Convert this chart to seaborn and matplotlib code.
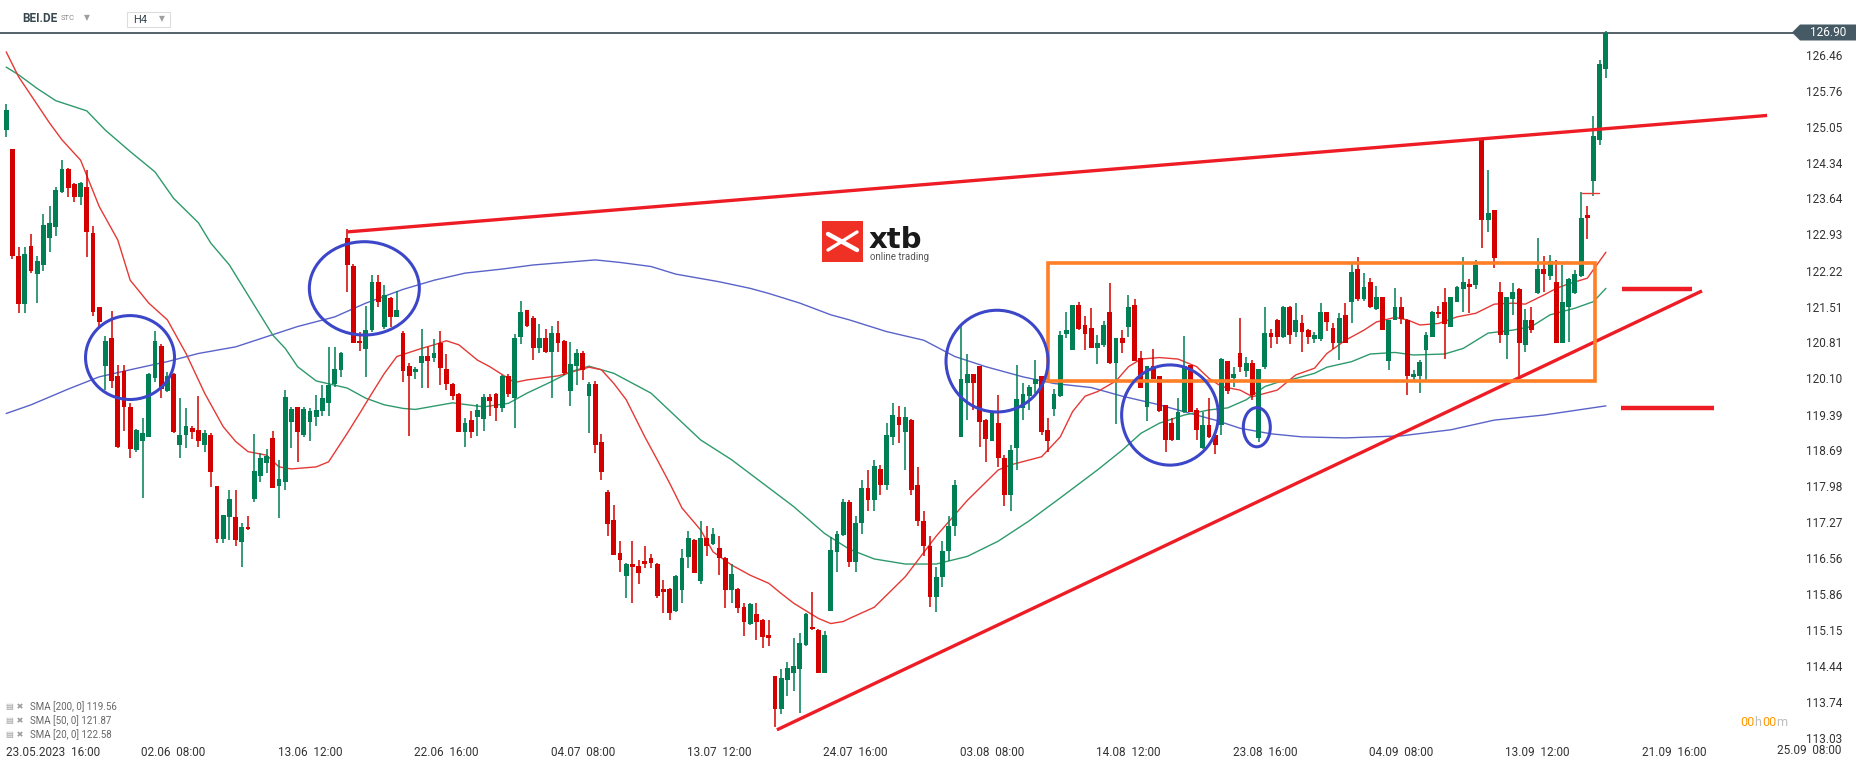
import numpy as np
import pandas as pd
import matplotlib
matplotlib.use("Agg")
import matplotlib.pyplot as plt
import seaborn as sns
from matplotlib.patches import Ellipse, Rectangle, Polygon
from matplotlib.transforms import ScaledTranslation

# ---- candles (H4, BEI.DE) ----
opens = [124.98, 124.61, 122.51, 121.57, 122.70, 122.16, 122.32, 122.87, 123.08, 123.77,
         124.22, 123.92, 123.67, 123.87, 122.95, 121.50, 120.35, 120.89, 120.15, 120.25,
         119.54, 118.69, 118.86, 118.95, 120.11, 120.74, 119.86, 120.18, 118.80, 118.99,
         119.12, 119.09, 118.80, 118.99, 117.98, 116.94, 117.37, 117.37, 116.89, 117.17,
         117.73, 118.19, 118.44, 118.92, 117.99, 118.06, 119.25, 119.54, 118.99, 119.25,
         119.35, 119.45, 119.61, 119.99, 120.27, 122.87, 122.31, 120.84, 120.67, 121.05,
         121.99, 121.12, 121.69, 121.31, 120.99, 120.34, 120.22, 120.41, 120.54, 120.51,
         120.80, 120.29, 119.99, 119.79, 119.05, 119.28, 119.35, 119.30, 119.74, 119.79,
         119.51, 120.15, 119.71, 120.92, 121.45, 121.28, 120.70, 120.89, 120.61, 120.99,
         120.84, 119.86, 120.34, 120.59, 119.76, 119.99, 118.84, 117.87, 117.32, 116.66,
         116.22, 116.46, 116.41, 116.51, 116.56, 116.46, 115.95, 115.95, 115.53, 115.93,
         116.58, 116.92, 116.12, 116.96, 116.84, 116.76, 116.57, 115.93, 115.96, 115.60,
         115.28, 115.47, 115.35, 115.05, 114.25, 113.60, 114.17, 114.31, 114.38, 114.86,
         115.22, 115.15, 114.31, 115.53, 116.69, 117.02, 117.66, 116.49, 117.25, 117.95,
         117.70, 118.32, 118.00, 118.95, 119.35, 119.05, 119.28, 118.00, 117.30, 116.80,
         115.80, 116.20, 116.70, 117.20, 118.95, 120.00, 120.18, 120.34, 119.28, 118.86,
         119.23, 118.53, 117.80, 118.74, 119.51, 119.75, 119.99, 120.15, 119.09, 119.50,
         119.76, 120.97, 120.66, 121.54, 121.15, 121.09, 120.70, 120.76, 121.40, 120.40,
         120.90, 121.12, 121.54, 120.50, 119.54, 120.34, 120.15, 119.58, 119.22, 118.89,
         119.43, 120.36, 119.48, 118.73, 119.18, 118.99, 119.18, 120.44, 120.10, 120.59,
         120.25, 120.40, 118.93, 120.32, 121.00, 121.25, 120.92, 121.51, 121.02, 121.18,
         121.05, 120.87, 120.87, 121.40, 121.09, 120.79, 121.35, 121.61, 122.25, 121.66,
         122.00, 121.46, 121.70, 120.45, 121.25, 121.50, 121.25, 120.12, 120.15, 120.66,
         120.92, 121.40, 121.60, 121.12, 121.61, 121.86, 121.95, 121.93, 124.79, 123.21,
         123.41, 121.79, 120.95, 121.67, 121.86, 120.76, 121.25, 121.77, 122.25, 122.12,
         122.00, 120.80, 121.51, 121.77, 122.12, 123.31, 123.99, 124.79, 126.18]
highs = [125.50, 124.61, 122.68, 122.68, 122.94, 122.51, 123.33, 123.49, 123.87, 124.39,
         124.23, 123.94, 123.96, 124.20, 123.10, 121.50, 120.93, 121.43, 120.36, 120.36,
         119.61, 119.10, 119.32, 120.20, 121.03, 120.78, 120.22, 120.20, 119.72, 119.52,
         119.17, 119.76, 119.09, 119.02, 117.98, 117.42, 117.91, 117.91, 117.26, 117.39,
         119.01, 118.63, 118.71, 119.07, 118.50, 119.87, 119.54, 119.54, 119.54, 119.51,
         119.77, 119.98, 120.71, 120.71, 120.61, 123.03, 122.34, 121.02, 121.53, 122.13,
         122.13, 121.94, 121.71, 121.82, 121.03, 120.41, 120.33, 121.07, 120.72, 120.87,
         121.03, 120.58, 120.00, 119.81, 119.32, 119.46, 119.60, 119.79, 119.79, 119.81,
         120.17, 120.18, 120.97, 121.62, 121.45, 121.33, 121.17, 121.07, 121.13, 121.23,
         120.86, 120.81, 120.67, 120.63, 120.02, 120.05, 119.01, 117.91, 117.61, 116.90,
         116.48, 116.90, 116.53, 116.80, 116.65, 116.48, 116.14, 115.97, 116.23, 116.75,
         117.09, 116.94, 117.30, 117.20, 117.15, 117.00, 116.59, 116.45, 115.97, 115.68,
         115.68, 115.68, 115.36, 115.34, 114.25, 114.39, 114.52, 115.00, 115.09, 115.48,
         115.91, 115.18, 115.14, 116.99, 117.10, 117.72, 117.70, 117.40, 118.10, 118.30,
         118.50, 118.40, 119.22, 119.61, 119.56, 119.54, 119.30, 118.36, 117.50, 117.00,
         116.40, 116.90, 117.40, 118.10, 121.15, 120.58, 120.18, 120.34, 119.30, 119.43,
         119.77, 118.60, 118.80, 120.36, 120.00, 119.97, 120.46, 120.15, 119.32, 119.89,
         121.03, 121.40, 121.54, 121.61, 121.33, 121.48, 120.95, 121.23, 121.98, 120.90,
         121.05, 121.73, 121.67, 120.63, 120.34, 120.68, 120.15, 119.58, 119.32, 119.71,
         120.93, 120.36, 119.51, 119.43, 119.71, 119.01, 120.50, 120.44, 120.32, 121.28,
         120.52, 120.46, 120.28, 121.51, 121.07, 121.27, 121.52, 121.52, 121.58, 121.35,
         121.07, 121.02, 121.58, 121.41, 121.18, 121.38, 121.58, 122.34, 122.48, 122.17,
         122.07, 121.92, 121.71, 121.25, 121.87, 121.70, 121.26, 120.27, 120.46, 121.01,
         121.43, 121.53, 121.88, 121.71, 121.91, 122.48, 122.06, 122.43, 124.83, 124.20,
         123.41, 121.99, 121.70, 121.97, 121.87, 121.46, 121.51, 122.87, 122.51, 122.53,
         122.43, 122.33, 122.07, 122.23, 123.77, 123.49, 125.26, 126.36, 126.93]
lows = [124.85, 122.45, 121.39, 121.39, 122.18, 121.59, 122.22, 122.59, 122.89, 123.74,
        123.66, 123.56, 123.50, 122.49, 121.33, 121.09, 119.87, 119.92, 118.73, 119.07,
        118.53, 118.66, 117.75, 118.94, 120.02, 119.72, 119.83, 119.03, 118.53, 118.73,
        118.91, 118.76, 118.65, 117.97, 116.86, 116.86, 116.92, 116.81, 116.40, 117.12,
        117.66, 118.07, 118.24, 117.95, 117.36, 117.91, 118.73, 118.46, 118.95, 118.87,
        119.17, 119.37, 119.37, 119.94, 120.13, 121.79, 120.80, 120.63, 120.13, 121.02,
        121.50, 121.07, 121.12, 121.30, 120.02, 118.97, 120.08, 119.92, 119.92, 120.42,
        119.98, 119.87, 119.68, 119.05, 118.76, 118.92, 118.97, 119.07, 119.37, 119.27,
        119.43, 119.73, 119.12, 120.78, 121.12, 120.46, 120.59, 120.59, 119.72, 120.61,
        120.17, 119.56, 119.97, 120.07, 119.02, 118.63, 118.10, 117.01, 116.63, 116.30,
        115.79, 115.69, 116.05, 116.37, 116.37, 115.79, 115.49, 115.35, 115.50, 115.69,
        116.37, 116.28, 116.05, 116.61, 116.82, 116.23, 115.59, 115.69, 115.48, 115.04,
        115.25, 114.96, 114.79, 114.84, 113.24, 113.50, 113.86, 113.96, 113.52, 114.84,
        115.15, 114.31, 114.31, 115.53, 116.30, 117.01, 116.40, 116.30, 117.05, 117.50,
        117.50, 117.80, 117.90, 118.80, 118.82, 118.30, 117.80, 117.20, 116.60, 115.60,
        115.50, 116.00, 116.50, 117.00, 118.95, 119.28, 119.48, 118.76, 118.46, 118.86,
        118.36, 117.60, 117.50, 118.30, 119.28, 119.48, 119.81, 118.99, 118.66, 119.37,
        119.74, 120.89, 120.65, 121.05, 120.66, 120.70, 120.38, 120.72, 120.38, 119.20,
        120.59, 120.92, 120.44, 119.91, 119.27, 120.08, 119.43, 118.66, 118.87, 118.89,
        119.41, 119.43, 118.89, 118.71, 118.92, 118.61, 118.99, 119.80, 119.94, 120.23,
        120.13, 119.68, 118.85, 120.28, 120.69, 120.78, 120.89, 120.78, 120.92, 120.61,
        120.78, 120.79, 120.84, 121.04, 120.68, 120.46, 120.79, 121.18, 121.63, 121.63,
        121.48, 121.45, 121.05, 120.27, 121.25, 121.17, 119.77, 120.07, 119.82, 120.07,
        120.92, 121.28, 120.48, 121.12, 121.61, 121.40, 121.38, 121.85, 122.66, 122.98,
        122.28, 120.79, 120.48, 121.35, 120.10, 120.61, 121.00, 121.76, 121.79, 122.03,
        120.79, 120.79, 120.82, 121.76, 122.09, 122.85, 123.69, 124.69, 126.01]
closes = [125.38, 122.51, 121.57, 122.55, 122.21, 122.41, 123.12, 123.15, 123.80, 124.22,
          123.84, 123.67, 123.94, 122.97, 121.41, 121.21, 120.84, 120.05, 118.75, 119.54,
          118.71, 119.09, 119.02, 120.18, 120.84, 119.89, 120.15, 119.05, 118.99, 119.17,
          119.05, 118.86, 119.02, 118.25, 116.94, 117.41, 117.73, 116.92, 117.18, 117.13,
          118.28, 118.53, 118.57, 117.95, 118.12, 119.73, 119.49, 119.05, 119.49, 119.45,
          119.48, 119.71, 119.98, 120.28, 120.59, 122.32, 120.80, 120.79, 121.05, 121.99,
          121.61, 121.74, 121.31, 121.45, 120.25, 120.15, 120.29, 120.54, 120.45, 120.59,
          120.31, 119.99, 119.76, 119.05, 119.22, 119.05, 119.48, 119.74, 119.66, 119.51,
          120.15, 119.79, 120.90, 121.41, 121.13, 120.70, 120.89, 120.61, 120.99, 120.80,
          120.21, 120.38, 120.59, 120.27, 119.99, 118.80, 118.25, 117.24, 116.63, 116.53,
          116.46, 116.39, 116.28, 116.45, 116.47, 115.83, 115.91, 115.48, 116.21, 116.56,
          116.96, 116.28, 116.96, 116.80, 117.05, 116.57, 115.93, 116.25, 115.58, 115.32,
          115.66, 115.32, 115.02, 114.99, 113.60, 114.20, 114.41, 114.45, 114.89, 115.47,
          115.17, 114.31, 115.05, 116.73, 117.05, 117.66, 116.49, 117.25, 117.95, 117.70,
          118.38, 118.00, 118.99, 119.39, 119.18, 119.35, 117.90, 117.30, 116.80, 115.80,
          116.20, 116.70, 117.20, 118.00, 120.09, 120.18, 120.00, 119.25, 118.90, 119.43,
          118.53, 117.80, 118.70, 119.70, 119.79, 119.94, 120.09, 119.05, 118.86, 119.79,
          120.95, 121.05, 121.54, 121.07, 120.97, 120.70, 120.80, 121.15, 120.41, 120.90,
          120.80, 121.51, 120.44, 119.91, 120.34, 120.08, 119.45, 118.89, 118.89, 119.43,
          120.34, 119.43, 119.09, 119.18, 118.95, 118.79, 120.48, 119.85, 120.19, 120.32,
          120.41, 119.77, 120.28, 120.99, 120.92, 120.92, 121.51, 120.95, 121.25, 121.02,
          120.92, 120.95, 121.41, 121.21, 120.79, 121.29, 120.79, 122.19, 121.66, 121.89,
          121.50, 121.70, 121.05, 121.25, 121.50, 121.26, 120.15, 120.18, 120.43, 120.95,
          121.41, 121.36, 121.16, 121.70, 121.90, 122.00, 121.90, 122.33, 123.21, 123.35,
          122.47, 120.95, 121.70, 121.79, 120.79, 121.25, 121.05, 122.25, 122.15, 122.41,
          120.79, 121.60, 122.06, 122.15, 123.25, 123.26, 124.87, 126.28, 126.90]

# ---- moving averages (bar index, value) ----
sma20_idx = [0, 2, 7, 9, 12, 15, 18, 20, 23, 26, 29, 32, 35, 37, 39, 42, 44, 46, 50, 52,
             55, 57, 59, 61, 63, 67, 69, 71, 73, 76, 78, 82, 84, 89, 94, 96, 98, 100, 103, 105,
             107, 109, 112, 114, 117, 120, 123, 125, 127, 131, 133, 135, 136, 140, 145, 150, 155, 160, 162, 167,
             170, 172, 174, 176, 179, 181, 183, 186, 189, 192, 194, 196, 199, 201, 205, 208, 211, 213, 216, 219,
             221, 224, 226, 228, 231, 234, 237, 240, 243, 245, 248, 250, 252, 255, 258]
sma20_val = [126.52, 126.03, 125.12, 124.79, 124.39, 123.48, 122.82, 122.03, 121.58, 121.25, 120.59, 119.81, 119.15, 118.86, 118.66, 118.59, 118.36, 118.32, 118.36, 118.46,
             119.02, 119.41, 119.81, 120.20, 120.53, 120.69, 120.76, 120.84, 120.76, 120.46, 120.33, 120.02, 120.07, 120.15, 120.32, 120.27, 120.00, 119.68, 118.95, 118.50,
             118.04, 117.55, 117.12, 116.69, 116.43, 116.23, 116.07, 115.87, 115.68, 115.38, 115.28, 115.32, 115.38, 115.60, 116.20, 117.00, 117.70, 118.30, 118.40, 118.56,
             118.95, 119.45, 119.75, 119.84, 120.05, 120.33, 120.48, 120.51, 120.48, 120.33, 120.10, 119.94, 119.87, 119.74, 119.87, 120.17, 120.30, 120.59, 120.85, 121.05,
             121.21, 121.30, 121.25, 121.15, 121.18, 121.31, 121.38, 121.56, 121.58, 121.56, 121.74, 121.87, 121.96, 122.07, 122.58]
sma50_idx = [0, 2, 5, 8, 13, 16, 20, 24, 27, 31, 33, 36, 40, 43, 45, 47, 50, 55, 58, 61,
             64, 66, 72, 77, 81, 84, 88, 91, 94, 98, 104, 108, 112, 117, 122, 127, 132, 136, 140, 145,
             150, 155, 160, 165, 170, 176, 180, 183, 186, 190, 194, 197, 200, 203, 205, 208, 211, 213, 217, 220,
             224, 227, 232, 235, 239, 243, 246, 249, 253, 256, 258]
sma50_val = [126.22, 126.07, 125.80, 125.56, 125.36, 124.98, 124.56, 124.16, 123.64, 123.16, 122.76, 122.33, 121.54, 120.95, 120.69, 120.33, 120.05, 119.91, 119.71, 119.58,
             119.51, 119.49, 119.62, 119.54, 119.61, 119.81, 120.04, 120.23, 120.34, 120.20, 119.81, 119.35, 118.89, 118.50, 118.04, 117.58, 117.05, 116.74, 116.55, 116.45,
             116.45, 116.60, 116.90, 117.30, 117.75, 118.30, 118.69, 119.02, 119.22, 119.38, 119.48, 119.52, 119.68, 119.94, 120.02, 120.10, 120.20, 120.32, 120.43, 120.58,
             120.61, 120.56, 120.58, 120.69, 120.99, 121.05, 121.12, 121.35, 121.48, 121.61, 121.87]
sma200_idx = [0, 4, 10, 15, 20, 26, 31, 37, 42, 47, 53, 58, 64, 69, 74, 80, 85, 90, 95, 99,
              104, 108, 115, 120, 123, 128, 133, 136, 142, 148, 153, 158, 164, 169, 175, 180, 186, 191, 195, 199,
              204, 209, 216, 225, 233, 240, 248, 258]
sma200_val = [119.41, 119.58, 119.89, 120.13, 120.27, 120.43, 120.59, 120.72, 120.92, 121.12, 121.31, 121.58, 121.85, 122.03, 122.17, 122.25, 122.33, 122.38, 122.43, 122.38,
              122.30, 122.15, 122.00, 121.87, 121.77, 121.58, 121.35, 121.25, 121.02, 120.85, 120.53, 120.33, 120.13, 120.00, 119.92, 119.75, 119.58, 119.41, 119.28, 119.12,
              119.01, 118.95, 118.93, 118.97, 119.09, 119.28, 119.38, 119.56]

# ---- axis labels ----
price_ticks = [126.46, 125.76, 125.05, 124.34, 123.64, 122.93, 122.22, 121.51, 120.81, 120.10,
               119.39, 118.69, 117.98, 117.27, 116.56, 115.86, 115.15, 114.44, 113.74, 113.03]
date_idx = [5, 27, 49, 71, 93, 115, 137, 159, 181, 203, 225, 247, 269]
date_labels = ["23.05.2023  16:00", "02.06  08:00", "13.06  12:00", "22.06  16:00", "04.07  08:00",
               "13.07  12:00", "24.07  16:00", "03.08  08:00", "14.08  12:00", "23.08  16:00",
               "04.09  08:00", "13.09  12:00", "21.09  16:00"]
sma_legend = ["SMA [200, 0] 119.56", "SMA [50, 0] 121.87", "SMA [20, 0] 122.58"]
last_price = 126.90

# ---- drawings on the chart (bar index, price) ----
resistance = [(55, 122.98), (284, 125.27)]
support = [(124.3, 113.19), (273.5, 121.82)]
levels = [(260.6, 271.9, 121.85), (260.5, 275.5, 119.52)]
range_box = (168.1, 120.05, 256.3, 122.36)
circles = [(19.97, 120.51, 14.35, 1.65), (57.76, 121.87, 17.74, 1.835),
           (159.8, 120.44, 16.45, 2.0), (187.7, 119.38, 15.6, 1.97),
           (201.7, 119.14, 4.35, 0.77)]

GREEN = "#007F55"
RED = "#D40000"

sns.set_theme(style="white")
plt.rcParams["font.family"] = ["Roboto", "DejaVu Sans"]

W, H = 1866, 767
fig = plt.figure(figsize=(W / 100, H / 100), dpi=100)
ax = fig.add_axes([0, 1 - 745 / H, 1795 / W, 725 / H])

def fx(px):
    return px / W

def fy(py):
    return 1 - py / H

df = pd.DataFrame({"o": opens, "h": highs, "l": lows, "c": closes})
df["i"] = np.arange(len(df))
up = df["c"] >= df["o"]
col = np.where(up, GREEN, RED)

# moving averages
sma = pd.concat([
    pd.DataFrame({"i": sma200_idx, "v": sma200_val, "s": "200"}),
    pd.DataFrame({"i": sma50_idx, "v": sma50_val, "s": "50"}),
    pd.DataFrame({"i": sma20_idx, "v": sma20_val, "s": "20"}),
])
sns.lineplot(data=sma, x="i", y="v", hue="s", ax=ax, legend=False, linewidth=1.0,
             palette={"200": "#5A63C8", "50": "#2E9A6C", "20": "#E53935"}, zorder=2)

# candles
ax.vlines(df["i"], df["l"], df["h"], color=col, linewidth=1.1, zorder=3)
body = (df["c"] - df["o"]).abs().clip(lower=0.04)
ax.bar(df["i"], body, bottom=np.minimum(df["o"], df["c"]), width=0.78,
       color=col, linewidth=0, zorder=3)

# last price line
ax.axhline(last_price, color="#37474F", linewidth=1.2, zorder=2)

# drawings
(x0, y0), (x1, y1) = resistance
ax.plot([x0, x1], [y0, y1], color="#EE1C25", linewidth=2.4, zorder=4, solid_capstyle="butt")
(x0, y0), (x1, y1) = support
ax.plot([x0, x1], [y0, y1], color="#EE1C25", linewidth=2.4, zorder=4, solid_capstyle="butt")
for a, b, y in levels:
    ax.plot([a, b], [y, y], color="#EE1C25", linewidth=3.2, zorder=4, solid_capstyle="butt")
ax.plot([254.2, 256.9], [123.74, 123.74], color="#E53935", linewidth=1.0, zorder=4)
bx0, by0, bx1, by1 = range_box
ax.add_patch(Rectangle((bx0, by0), bx1 - bx0, by1 - by0, fill=False,
                       edgecolor="#FF7F27", linewidth=2.6, zorder=4))
for cx, cy, w, h in circles:
    ax.add_patch(Ellipse((cx, cy), w, h, fill=False, edgecolor="#3C46C8",
                         linewidth=2.2, zorder=4))

ax.set_xlim(-1.0, 288.5)
ax.set_ylim(127.54 - 745 / 50.86, 127.54 - 20 / 50.86)
for s in ax.spines.values():
    s.set_visible(False)
ax.grid(False)
ax.set_xlabel("")
ax.set_ylabel("")

ax.yaxis.tick_right()
ax.set_yticks(price_ticks)
ax.set_yticklabels([f"{v:.2f}" for v in price_ticks])
ax.tick_params(axis="y", length=0, pad=8, labelsize=8.5, labelcolor="#333333")
ax.set_xticks(date_idx)
ax.set_xticklabels(date_labels)
ax.tick_params(axis="x", length=0, pad=1, labelsize=8.5, labelcolor="#333333")
first = ax.get_xticklabels()[0]
first.set_horizontalalignment("left")
first.set_transform(first.get_transform() + ScaledTranslation(-0.31, 0, fig.dpi_scale_trans))

# price tag
tag = Polygon([(fx(1792), fy(32.5)), (fx(1800), fy(24.5)), (fx(1856), fy(24.5)),
               (fx(1856), fy(40.5)), (fx(1800), fy(40.5))], closed=True,
              transform=fig.transFigure, facecolor="#455A64", edgecolor="none")
fig.patches.append(tag)
fig.text(fx(1828), fy(32.5), f"{last_price:.2f}", color="white", fontsize=8.5,
         ha="center", va="center")

# bottom-right time labels
fig.text(fx(1740), fy(723), "00", color="#FF9800", fontsize=9, va="center")
fig.text(fx(1754), fy(723), "h", color="#BDBDBD", fontsize=9, va="center")
fig.text(fx(1762), fy(723), "00", color="#FF9800", fontsize=9, va="center")
fig.text(fx(1776), fy(723), "m", color="#BDBDBD", fontsize=9, va="center")
fig.text(fx(1809), fy(751), "25.09  08:00", color="#333333", fontsize=8.5, ha="center", va="center")

# header
fig.text(fx(22), fy(18), "BEI.DE", color="#37474F", fontsize=8.5, fontweight="bold", va="center")
fig.text(fx(61), fy(18), "STC", color="#888888", fontsize=5.5, va="center")
fig.text(fx(84), fy(18), "▼", color="#9E9E9E", fontsize=5.5, va="center",
         family=["DejaVu Sans"])
fig.patches.append(Rectangle((fx(127), fy(27)), fx(170) - fx(127), fy(12) - fy(27),
                             transform=fig.transFigure, facecolor="white",
                             edgecolor="#DDDDDD", linewidth=0.8))
fig.text(fx(133), fy(20), "H4", color="#37474F", fontsize=8, va="center")
fig.text(fx(159), fy(19), "▼", color="#9E9E9E", fontsize=5.5, va="center",
         family=["DejaVu Sans"])

# sma legend
for k, txt in enumerate(sma_legend):
    y = 707 + 14 * k
    fig.text(fx(6), fy(y), "▤ ✖", color="#9E9E9E", fontsize=6, va="center",
             family=["DejaVu Sans"])
    fig.text(fx(30), fy(y), txt, color="#666666", fontsize=7, va="center")

# logo
fig.patches.append(Rectangle((fx(822), fy(262)), fx(863) - fx(822), fy(221) - fy(262),
                             transform=fig.transFigure, facecolor="#EE3124", edgecolor="none"))
fig.lines.append(plt.Line2D([fx(828), fx(857)], [fy(234), fy(250)], color="white",
                            linewidth=3.2, transform=fig.transFigure))
fig.lines.append(plt.Line2D([fx(828), fx(857)], [fy(250), fy(232)], color="white",
                            linewidth=2.4, transform=fig.transFigure))
fig.text(fx(869), fy(248), "xtb", color="#1A1A1A", fontsize=21, fontweight="bold",
         va="baseline", family=["DejaVu Sans"])
fig.text(fx(870), fy(257), "online trading", color="#555555", fontsize=7, va="center")

fig.savefig("out.png", dpi=100)
